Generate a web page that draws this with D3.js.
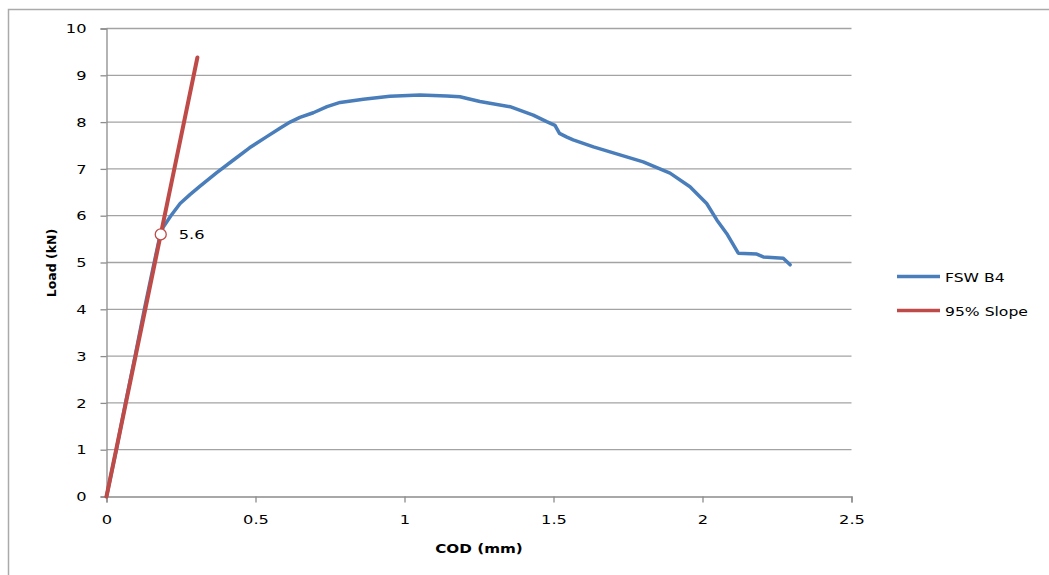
<!DOCTYPE html>
<html>
<head>
<meta charset="utf-8">
<script src="https://d3js.org/d3.v7.min.js"></script>
<style>
  body { margin: 0; background: #fff; }
  text { font-family: "DejaVu Sans", "Liberation Sans", sans-serif; fill: #000; }
</style>
</head>
<body>
<svg width="1049" height="575"></svg>
<script>
// FSW B4 curve (COD mm, load kN)
const codB4 = [0, 0.033, 0.064, 0.096, 0.127, 0.155, 0.177, 0.19, 0.216, 0.247, 0.28, 0.314, 0.37, 0.426, 0.48, 0.538, 0.582, 0.616, 0.649, 0.694, 0.74, 0.784, 0.862, 0.951, 1.052, 1.142, 1.186, 1.253, 1.354, 1.432, 1.477, 1.505, 1.52, 1.545, 1.566, 1.634, 1.723, 1.801, 1.891, 1.958, 2.014, 2.048, 2.081, 2.12, 2.182, 2.204, 2.271, 2.294];
const loadB4 = [0, 1, 2, 3, 4, 4.85, 5.5, 5.75, 6.0, 6.26, 6.45, 6.63, 6.92, 7.19, 7.45, 7.69, 7.87, 8.0, 8.1, 8.2, 8.33, 8.42, 8.49, 8.55, 8.58, 8.56, 8.54, 8.44, 8.33, 8.15, 8.01, 7.93, 7.76, 7.68, 7.62, 7.47, 7.30, 7.15, 6.91, 6.62, 6.26, 5.91, 5.62, 5.20, 5.18, 5.12, 5.09, 4.95];
// 95% slope line
const codSlope = [0, 0.305];
const loadSlope = [0, 9.38];
// intersection marker
const markCod = [0.182];
const markLoad = [5.6];
const markLabel = ["5.6"];

const xTicks = [0, 0.5, 1, 1.5, 2, 2.5];
const yTicks = [0, 1, 2, 3, 4, 5, 6, 7, 8, 9, 10];
const seriesNames = ["FSW B4", "95% Slope"];
const seriesColors = ["#4a7ebb", "#be4b48"];

const svg = d3.select("svg");
const x = d3.scaleLinear().domain([0, 2.5]).range([106.5, 851.5]);
const y = d3.scaleLinear().domain([0, 10]).range([496.5, 28.5]);

// the source picture is a bit wider than normal text, so widen the glyphs
function stretch(sel, k) {
  sel.each(function() {
    const w = this.getComputedTextLength();
    d3.select(this).attr("textLength", w * k).attr("lengthAdjust", "spacingAndGlyphs");
  });
}

// outer chart frame
svg.append("rect")
  .attr("x", 8.5).attr("y", 9.5)
  .attr("width", 1100).attr("height", 700)
  .attr("fill", "none").attr("stroke", "#aaaaaa").attr("stroke-width", 1.5);

// gridlines
svg.append("g").selectAll("line").data(yTicks.slice(1)).enter().append("line")
  .attr("x1", x(0)).attr("x2", x(2.5))
  .attr("y1", d => y(d)).attr("y2", d => y(d))
  .attr("stroke", "#a3a3a3").attr("stroke-width", 1.3);

// y axis
const yAxis = svg.append("g")
  .attr("transform", `translate(${x(0)},0)`)
  .call(d3.axisLeft(y).tickValues(yTicks).tickSize(6).tickPadding(14).tickFormat(d3.format("d")));
// x axis
const xAxis = svg.append("g")
  .attr("transform", `translate(0,${y(0)})`)
  .call(d3.axisBottom(x).tickValues(xTicks).tickSize(6).tickPadding(12).tickFormat(d => d));
[yAxis, xAxis].forEach(a => {
  a.select(".domain").attr("stroke", "#8c8c8c").attr("stroke-width", 1.3);
  a.selectAll(".tick line").attr("stroke", "#8c8c8c").attr("stroke-width", 1.3);
  a.selectAll(".tick text").style("font-size", "13px").attr("fill", "#000")
    .style("font-family", "'DejaVu Sans', sans-serif").call(stretch, 1.25);
});

// axis titles
svg.append("text")
  .attr("x", 479).attr("y", 553)
  .attr("text-anchor", "middle")
  .style("font-size", "13px").style("font-weight", "bold")
  .text("COD (mm)").call(stretch, 1.17);
svg.append("text")
  .attr("transform", "translate(56,263) rotate(-90)")
  .attr("text-anchor", "middle")
  .style("font-size", "12.5px").style("font-weight", "bold")
  .text("Load (kN)");

const line = d3.line().x(d => x(d[0])).y(d => y(d[1]));

// FSW B4
svg.append("path")
  .datum(d3.zip(codB4, loadB4))
  .attr("d", line)
  .attr("fill", "none").attr("stroke", seriesColors[0])
  .attr("stroke-width", 3.5).attr("stroke-linejoin", "round").attr("stroke-linecap", "round");

// 95% slope
svg.append("path")
  .datum(d3.zip(codSlope, loadSlope))
  .attr("d", line)
  .attr("fill", "none").attr("stroke", seriesColors[1])
  .attr("stroke-width", 4).attr("stroke-linecap", "round");

// marker + label
svg.selectAll(".mark").data(d3.zip(markCod, markLoad, markLabel)).enter().append("circle")
  .attr("cx", d => x(d[0])).attr("cy", d => y(d[1])).attr("r", 5.5)
  .attr("fill", "#fff").attr("stroke", seriesColors[1]).attr("stroke-width", 1.3);
svg.selectAll(".mlabel").data(d3.zip(markCod, markLoad, markLabel)).enter().append("text")
  .attr("x", d => x(d[0]) + 18).attr("y", d => y(d[1]) + 5)
  .style("font-size", "13px")
  .text(d => d[2]).call(stretch, 1.25);

// legend
const leg = svg.append("g").selectAll("g").data(seriesNames).enter().append("g")
  .attr("transform", (d, i) => `translate(0,${276.5 + i * 34})`);
leg.append("line")
  .attr("x1", 897).attr("x2", 940)
  .attr("stroke", (d, i) => seriesColors[i]).attr("stroke-width", 3.5);
leg.append("text")
  .attr("x", 945).attr("y", 5)
  .style("font-size", "13px")
  .text(d => d).call(stretch, 1.2);
</script>
</body>
</html>
